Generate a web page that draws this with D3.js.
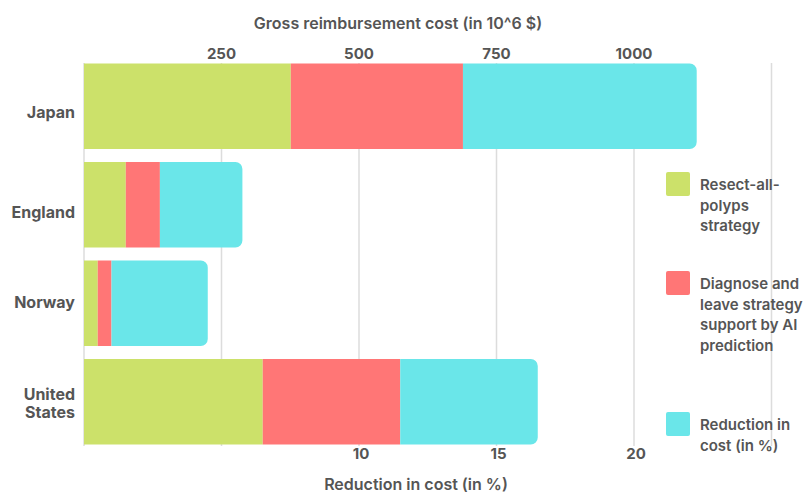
<!DOCTYPE html>
<html>
<head>
<meta charset="utf-8">
<script src="https://d3js.org/d3.v7.min.js"></script>
<style>
  body { margin: 0; background: #fff; }
  text { fill: #555; }
</style>
</head>
<body>
<div id="chart"></div>
<script>
// data
var countries = ["Japan", "England", "Norway", "United States"]
var resectAll = [376, 76, 25, 325]        // 10^6 $
var diagnoseLeave = [313, 62, 25, 250]    // 10^6 $
var reduction = [8.5, 3.0, 3.5, 5.0]      // %
var topTicks = [250, 500, 750, 1000]
var bottomTicks = [10, 15, 20]
var legendLabels = [
  ["Resect-all-", "polyps", "strategy"],
  ["Diagnose and", "leave strategy", "support by AI", "prediction"],
  ["Reduction in", "cost (in %)"]
]
var colors = ["#cce16a", "#ff7676", "#6ae6e9"]

var width = 803, height = 493

var svg = d3.select("#chart").append("svg")
  .attr("width", width)
  .attr("height", height)

var xTop = d3.scaleLinear().domain([0, 1250]).range([84, 771.5])
var xBottom = d3.scaleLinear().domain([0, 25]).range([84, 771.5])

var y = d3.scaleBand()
  .domain(countries)
  .range([57, 451])
  .paddingInner(0.13)
  .paddingOuter(0.065)

// gridlines
svg.append("g")
  .selectAll("line")
  .data(d3.range(0, 1251, 250))
  .join("line")
    .attr("x1", d => xTop(d)).attr("x2", d => xTop(d))
    .attr("y1", 63).attr("y2", 446)
    .attr("stroke", "#dcdcdc")
    .attr("stroke-width", 1.5)

var rows = countries.map(function(c, i) {
  var g = resectAll[i], r = diagnoseLeave[i]
  var x0 = xTop(g + r)
  return {
    country: c,
    segs: [
      {x: xTop(0), w: xTop(g) - xTop(0), c: colors[0]},
      {x: xTop(g), w: xTop(g + r) - xTop(g), c: colors[1]},
      {x: x0, w: xBottom(reduction[i]) - xBottom(0), c: colors[2], last: true}
    ]
  }
})

var bars = svg.append("g")
  .selectAll("g")
  .data(rows)
  .join("g")
    .attr("transform", d => "translate(0," + y(d.country) + ")")

bars.selectAll("path")
  .data(d => d.segs)
  .join("path")
    .attr("fill", d => d.c)
    .attr("d", function(d) {
      var h = y.bandwidth(), rr = 7
      if (!d.last) return "M" + d.x + ",0h" + d.w + "v" + h + "h" + (-d.w) + "Z"
      return "M" + d.x + ",0h" + (d.w - rr) +
        "a" + rr + "," + rr + " 0 0 1 " + rr + "," + rr +
        "v" + (h - 2 * rr) +
        "a" + rr + "," + rr + " 0 0 1 " + (-rr) + "," + rr +
        "h" + (-(d.w - rr)) + "Z"
    })

// axes (text only)
var font = "Inter, sans-serif"
svg.append("g").selectAll("text")
  .data(topTicks)
  .join("text")
    .attr("x", d => xTop(d)).attr("y", 59)
    .attr("text-anchor", "middle")
    .style("font", "bold 15px " + font)
    .text(d => d)

svg.append("g").selectAll("text")
  .data(bottomTicks)
  .join("text")
    .attr("x", d => xBottom(d) + 2).attr("y", 459)
    .attr("text-anchor", "middle")
    .style("font", "bold 15px " + font)
    .text(d => d)

svg.append("text")
  .attr("x", 398).attr("y", 29)
  .attr("text-anchor", "middle")
  .style("font", "600 16px " + font)
  .text("Gross reimbursement cost (in 10^6 $)")

svg.append("text")
  .attr("x", 416).attr("y", 490)
  .attr("text-anchor", "middle")
  .style("font", "600 16px " + font)
  .text("Reduction in cost (in %)")

// country labels
var labelShift = [6, 8, -1, 2]
svg.append("g").selectAll("text")
  .data(countries)
  .join("text")
    .attr("text-anchor", "end")
    .attr("x", 75)
    .attr("y", (d, i) => y(d) + y.bandwidth() / 2 + labelShift[i])
    .style("font", "bold 16px " + font)
    .each(function(d) {
      var words = d === "United States" ? ["United", "States"] : [d]
      var t = d3.select(this)
      words.forEach(function(w, i) {
        t.append("tspan")
          .attr("x", 75)
          .attr("dy", i === 0 ? (words.length === 1 ? "0.35em" : "-0.25em") : "1.15em")
          .text(w)
      })
    })

// legend
var legTop = [172, 271, 412]
var leg = svg.append("g").selectAll("g")
  .data(legendLabels)
  .join("g")
    .attr("transform", (d, i) => "translate(666," + legTop[i] + ")")

leg.append("rect")
  .attr("width", 24).attr("height", 24).attr("rx", 2)
  .attr("fill", (d, i) => colors[i])

leg.append("text")
  .style("font", "600 15px " + font)
  .selectAll("tspan")
  .data(d => d)
  .join("tspan")
    .attr("x", 34)
    .attr("y", (d, i) => 18 + i * 20.5)
    .text(d => d)
</script>
</body>
</html>
